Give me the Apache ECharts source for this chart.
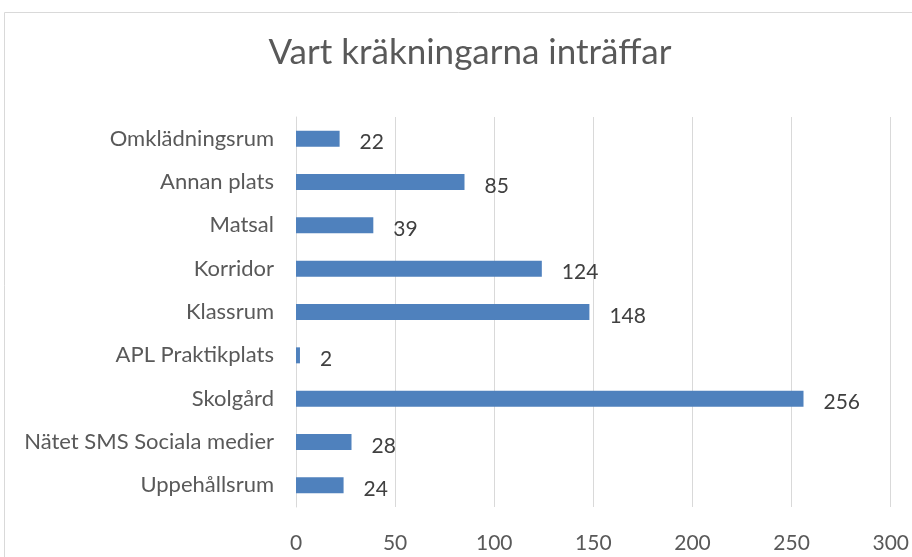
<!DOCTYPE html>
<html>
<head>
<meta charset="utf-8">
<script src="https://cdn.jsdelivr.net/npm/echarts@6/dist/echarts.min.js"></script>
<style>
  html, body { margin: 0; padding: 0; background: #fff; }
  #chart { width: 912px; height: 557px; }
</style>
</head>
<body>
<div id="chart"></div>
<script>
// kategorier uppifrån och ned
const categories = [
  "Omklädningsrum",
  "Annan plats",
  "Matsal",
  "Korridor",
  "Klassrum",
  "APL Praktikplats",
  "Skolgård",
  "Nätet SMS Sociala medier",
  "Uppehållsrum"
];
const values = [22, 85, 39, 124, 148, 2, 256, 28, 24];
const xTicks = [0, 50, 100, 150, 200, 250, 300];

const font = "Lato, 'Open Sans', sans-serif";
const myChart = echarts.init(document.getElementById("chart"));
const option = {
  animation: false,
  backgroundColor: "#fff",
  title: {
    text: "Vart kräkningarna inträffar",
    left: 465,
    top: 30,
    textAlign: "center",
    textStyle: { fontFamily: font, fontSize: 35, fontWeight: 400, color: "#595959" }
  },
  // ram runt diagrammet
  graphic: [{
    type: "rect",
    shape: { x: 4.5, y: 12.5, width: 1000, height: 1000 },
    style: { fill: null, stroke: "#d9d9d9", lineWidth: 1 },
    silent: true
  }],
  grid: { left: 296, right: 16, top: 117, bottom: 50, containLabel: false },
  xAxis: {
    type: "value",
    min: xTicks[0],
    max: xTicks[xTicks.length - 1],
    interval: 50,
    axisLine: { show: false },
    axisTick: { show: false },
    splitLine: { lineStyle: { color: "#d9d9d9", width: 1 } },
    axisLabel: { margin: 26, fontFamily: font, fontSize: 21, color: "#595959" }
  },
  yAxis: {
    type: "category",
    data: categories,
    inverse: true,
    axisLine: { show: true, lineStyle: { color: "#d9d9d9" } },
    axisTick: { show: false },
    axisLabel: { margin: 22, fontFamily: font, fontSize: 22, color: "#595959" }
  },
  series: [{
    type: "bar",
    data: values,
    barWidth: 16,
    itemStyle: { color: "#4f81bd" },
    label: {
      show: true,
      position: "right",
      distance: 20,
      offset: [0, 4],
      fontFamily: font,
      fontSize: 21,
      color: "#404040"
    }
  }]
};
myChart.setOption(option);
</script>
</body>
</html>
